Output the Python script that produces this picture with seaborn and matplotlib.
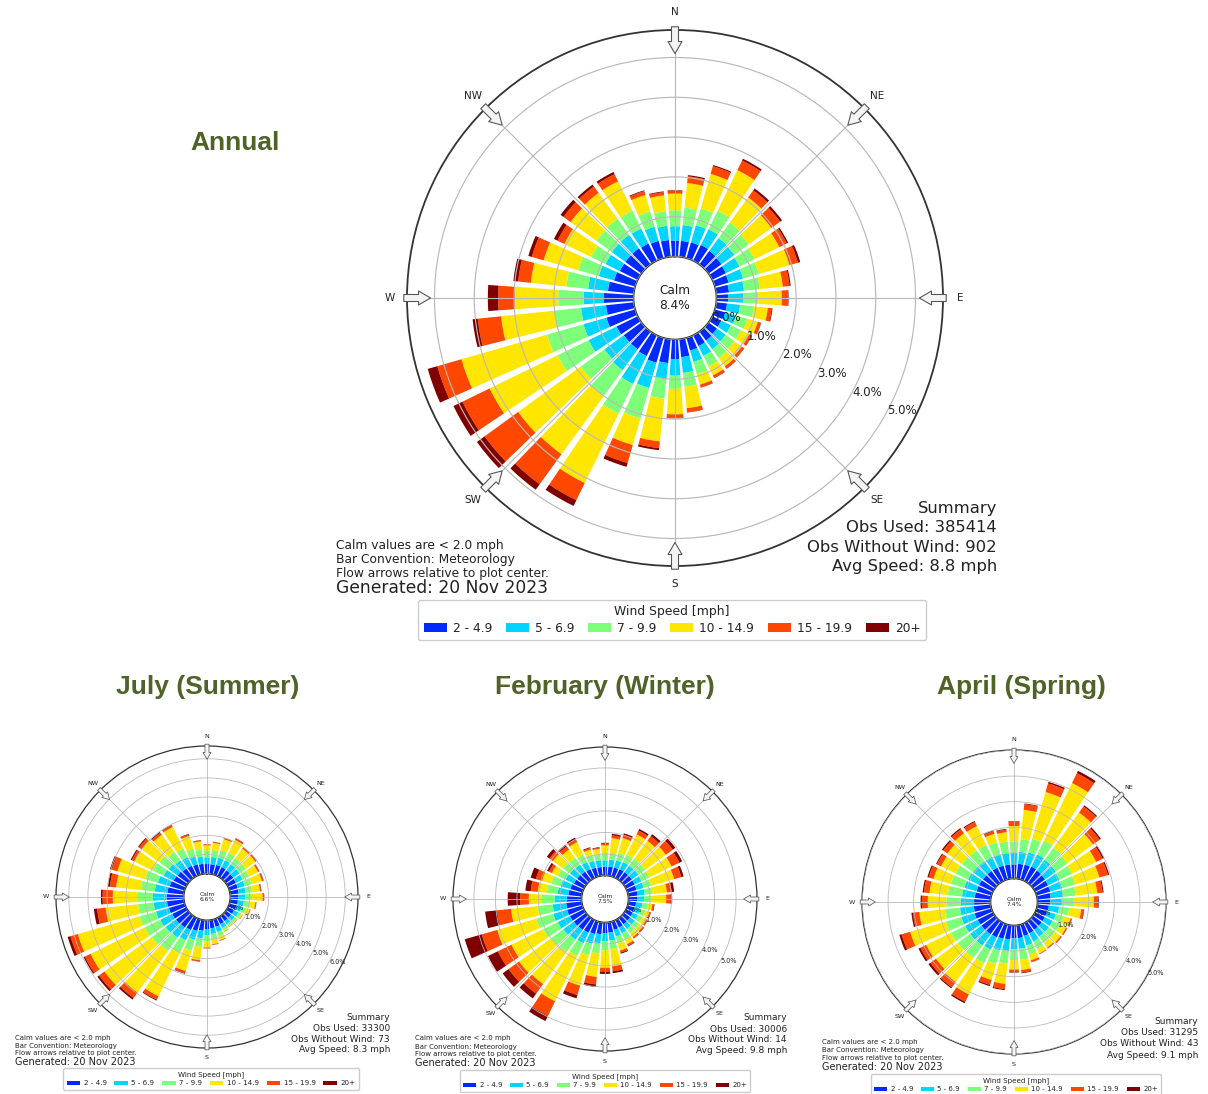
import numpy as np
import matplotlib
matplotlib.use("Agg")
import matplotlib.pyplot as plt
from matplotlib.patches import Patch
import seaborn as sns

# ---------------------------------------------------------------- data
directions = list(range(0, 360, 10))
speed_labels = ["2 - 4.9", "5 - 6.9", "7 - 9.9", "10 - 14.9", "15 - 19.9", "20+"]
compass = ["N", "NE", "E", "SE", "S", "SW", "W", "NW"]

# Cumulative frequency (%) at the top of each speed class, one row per direction
# (columns follow speed_labels).
annual_cum = [
    (0.40, 0.76, 1.16, 1.58, 1.66, 1.67), (0.40, 0.80, 1.24, 1.86, 2.03, 2.06),
    (0.41, 0.86, 1.30, 2.20, 2.40, 2.43), (0.44, 0.88, 1.40, 2.53, 2.80, 2.85),
    (0.42, 0.82, 1.30, 2.08, 2.30, 2.36), (0.40, 0.80, 1.25, 1.95, 2.22, 2.28),
    (0.38, 0.76, 1.18, 1.87, 2.08, 2.12), (0.36, 0.74, 1.15, 1.95, 2.17, 2.23),
    (0.32, 0.70, 1.10, 1.68, 1.85, 1.88), (0.29, 0.67, 1.05, 1.64, 1.79, 1.81),
    (0.27, 0.60, 0.95, 1.30, 1.40, 1.42), (0.26, 0.55, 0.85, 1.12, 1.20, 1.21),
    (0.25, 0.52, 0.80, 1.03, 1.10, 1.11), (0.26, 0.53, 0.80, 1.03, 1.10, 1.11),
    (0.28, 0.55, 0.83, 1.08, 1.15, 1.16), (0.30, 0.58, 0.87, 1.12, 1.19, 1.20),
    (0.33, 0.63, 0.95, 1.22, 1.29, 1.30), (0.45, 0.85, 1.20, 1.74, 1.84, 1.85),
    (0.49, 0.91, 1.24, 1.88, 1.97, 1.98), (0.60, 1.00, 1.50, 2.58, 2.75, 2.80),
    (0.65, 1.31, 2.11, 2.80, 3.27, 3.37), (0.58, 1.36, 2.19, 4.13, 4.61, 4.77),
    (0.55, 1.20, 2.01, 3.81, 4.74, 4.91), (0.55, 1.15, 1.89, 3.83, 4.87, 5.11),
    (0.59, 1.37, 2.24, 4.14, 4.90, 5.15), (0.75, 1.35, 2.30, 4.54, 5.17, 5.42),
    (0.70, 1.33, 2.00, 3.35, 3.94, 4.07), (0.75, 1.25, 1.89, 2.98, 3.40, 3.66),
    (0.65, 1.15, 1.70, 2.60, 2.92, 3.04), (0.55, 0.95, 1.49, 2.39, 2.70, 2.79),
    (0.50, 0.90, 1.30, 2.05, 2.24, 2.34), (0.50, 0.92, 1.40, 2.20, 2.42, 2.51),
    (0.50, 0.92, 1.42, 2.22, 2.42, 2.48), (0.48, 0.90, 1.40, 2.22, 2.42, 2.48),
    (0.45, 0.82, 1.22, 1.65, 1.75, 1.77), (0.42, 0.78, 1.15, 1.55, 1.63, 1.65),
]

july_cum = [
    (0.50, 0.85, 1.20, 1.48, 1.53, 1.54), (0.50, 0.88, 1.25, 1.62, 1.67, 1.68),
    (0.52, 0.92, 1.32, 1.92, 1.98, 2.00), (0.52, 0.92, 1.35, 2.10, 2.18, 2.20),
    (0.50, 0.90, 1.30, 1.90, 1.98, 2.00), (0.48, 0.88, 1.28, 1.90, 1.98, 2.00),
    (0.46, 0.85, 1.22, 1.74, 1.81, 1.83), (0.45, 0.83, 1.20, 1.76, 1.84, 1.86),
    (0.44, 0.80, 1.15, 1.56, 1.62, 1.64), (0.42, 0.78, 1.12, 1.68, 1.75, 1.77),
    (0.40, 0.72, 1.00, 1.32, 1.37, 1.38), (0.38, 0.66, 0.90, 1.10, 1.13, 1.14),
    (0.35, 0.60, 0.76, 0.84, 0.86, 0.86), (0.33, 0.55, 0.68, 0.73, 0.75, 0.75),
    (0.33, 0.55, 0.67, 0.71, 0.73, 0.73), (0.35, 0.58, 0.72, 0.79, 0.81, 0.81),
    (0.40, 0.68, 0.92, 1.12, 1.15, 1.16), (0.42, 0.72, 1.00, 1.26, 1.29, 1.30),
    (0.45, 0.78, 1.10, 1.42, 1.46, 1.47), (0.55, 0.95, 1.40, 2.10, 2.16, 2.18),
    (0.62, 1.10, 1.70, 2.80, 2.92, 2.95), (0.70, 1.30, 2.05, 4.55, 4.75, 4.80),
    (0.75, 1.40, 2.25, 4.95, 5.30, 5.40), (0.78, 1.45, 2.35, 5.40, 5.75, 5.86),
    (0.80, 1.50, 2.40, 5.55, 5.88, 5.95), (0.85, 1.55, 2.45, 5.80, 6.20, 6.35),
    (0.88, 1.58, 2.40, 4.10, 4.55, 4.72), (0.89, 1.60, 2.39, 3.70, 4.23, 4.32),
    (0.85, 1.52, 2.25, 3.55, 3.88, 3.98), (0.80, 1.45, 2.15, 3.65, 3.95, 4.05),
    (0.72, 1.30, 1.95, 3.00, 3.15, 3.21), (0.68, 1.25, 1.85, 3.00, 3.17, 3.23),
    (0.62, 1.15, 1.70, 2.80, 2.93, 2.98), (0.60, 1.10, 1.60, 2.85, 2.95, 2.98),
    (0.55, 0.98, 1.40, 2.10, 2.18, 2.21), (0.52, 0.90, 1.28, 1.70, 1.75, 1.77),
]

february_cum = [
    (0.40, 0.70, 1.00, 1.40, 1.48, 1.52), (0.42, 0.75, 1.08, 1.75, 1.88, 1.95),
    (0.43, 0.78, 1.12, 1.85, 2.00, 2.08), (0.45, 0.82, 1.20, 2.25, 2.45, 2.53),
    (0.45, 0.82, 1.22, 2.25, 2.52, 2.63), (0.45, 0.82, 1.22, 2.40, 2.80, 2.95),
    (0.44, 0.80, 1.20, 2.35, 2.75, 2.90), (0.43, 0.78, 1.15, 2.25, 2.60, 2.71),
    (0.42, 0.76, 1.12, 1.80, 2.02, 2.14), (0.40, 0.72, 1.05, 1.75, 1.95, 2.03),
    (0.36, 0.65, 0.90, 1.12, 1.19, 1.22), (0.34, 0.60, 0.85, 1.05, 1.11, 1.13),
    (0.34, 0.60, 0.84, 1.04, 1.10, 1.12), (0.35, 0.62, 0.86, 1.07, 1.14, 1.16),
    (0.36, 0.63, 0.88, 1.09, 1.16, 1.18), (0.38, 0.68, 0.98, 1.24, 1.33, 1.36),
    (0.40, 0.72, 1.05, 1.40, 1.50, 1.55), (0.48, 0.85, 1.25, 2.05, 2.28, 2.37),
    (0.50, 0.88, 1.30, 2.10, 2.30, 2.39), (0.55, 0.98, 1.45, 2.55, 2.90, 3.02),
    (0.60, 1.08, 1.62, 3.10, 3.55, 3.71), (0.65, 1.20, 1.85, 4.20, 4.95, 5.22),
    (0.68, 1.25, 1.95, 3.80, 4.35, 4.62), (0.70, 1.30, 2.00, 3.85, 4.45, 4.79),
    (0.72, 1.35, 2.10, 3.75, 4.45, 4.96), (0.74, 1.41, 2.23, 4.12, 4.87, 5.69),
    (0.72, 1.35, 2.05, 3.30, 3.95, 4.51), (0.68, 1.25, 1.85, 2.45, 2.85, 3.43),
    (0.62, 1.12, 1.62, 2.05, 2.38, 2.63), (0.58, 1.05, 1.50, 1.95, 2.25, 2.50),
    (0.52, 0.95, 1.35, 1.65, 1.80, 1.90), (0.50, 0.92, 1.32, 1.90, 2.10, 2.25),
    (0.48, 0.88, 1.28, 1.75, 1.93, 2.03), (0.45, 0.82, 1.20, 1.85, 2.00, 2.08),
    (0.42, 0.75, 1.05, 1.30, 1.37, 1.41), (0.40, 0.72, 1.02, 1.25, 1.30, 1.33),
]

april_cum = [
    (0.55, 1.00, 1.45, 2.05, 2.22, 2.24), (0.58, 1.05, 1.55, 2.70, 2.92, 2.95),
    (0.60, 1.10, 1.65, 3.55, 3.90, 3.96), (0.62, 1.15, 1.75, 4.25, 4.68, 4.78),
    (0.60, 1.12, 1.70, 3.40, 3.70, 3.75), (0.58, 1.10, 1.65, 2.90, 3.22, 3.28),
    (0.56, 1.06, 1.60, 2.65, 2.93, 3.00), (0.55, 1.04, 1.56, 2.55, 2.90, 2.95),
    (0.52, 1.00, 1.50, 2.35, 2.56, 2.60), (0.50, 0.95, 1.42, 2.20, 2.36, 2.39),
    (0.45, 0.85, 1.25, 1.72, 1.82, 1.84), (0.42, 0.78, 1.10, 1.38, 1.43, 1.44),
    (0.42, 0.76, 1.08, 1.34, 1.39, 1.40), (0.42, 0.76, 1.07, 1.33, 1.38, 1.39),
    (0.42, 0.75, 1.05, 1.28, 1.32, 1.33), (0.44, 0.80, 1.12, 1.32, 1.34, 1.35),
    (0.46, 0.85, 1.20, 1.45, 1.52, 1.53), (0.50, 0.92, 1.35, 1.75, 1.85, 1.88),
    (0.50, 0.92, 1.35, 1.72, 1.82, 1.84), (0.55, 1.00, 1.50, 2.30, 2.50, 2.54),
    (0.58, 1.05, 1.60, 2.25, 2.45, 2.50), (0.62, 1.15, 1.75, 3.10, 3.42, 3.48),
    (0.64, 1.18, 1.78, 2.95, 3.20, 3.25), (0.65, 1.20, 1.80, 2.85, 3.12, 3.21),
    (0.66, 1.20, 1.82, 2.90, 3.15, 3.23), (0.68, 1.22, 1.85, 3.30, 3.65, 3.74),
    (0.66, 1.20, 1.80, 2.80, 3.05, 3.11), (0.64, 1.16, 1.72, 2.45, 2.68, 2.73),
    (0.62, 1.12, 1.68, 2.40, 2.62, 2.67), (0.60, 1.10, 1.65, 2.35, 2.55, 2.60),
    (0.60, 1.08, 1.62, 2.25, 2.43, 2.47), (0.58, 1.06, 1.60, 2.30, 2.50, 2.56),
    (0.58, 1.05, 1.58, 2.40, 2.60, 2.65), (0.57, 1.04, 1.56, 2.38, 2.56, 2.60),
    (0.56, 1.02, 1.50, 1.85, 1.96, 1.99), (0.55, 1.00, 1.45, 1.82, 1.92, 1.95),
]

titles = ["Annual", "July (Summer)", "February (Winter)", "April (Spring)"]
calm_pct = [8.4, 6.6, 7.5, 7.4]
obs_used = [385414, 33300, 30006, 31295]
obs_without_wind = [902, 73, 14, 43]
avg_speed = [8.8, 8.3, 9.8, 9.1]
ring_max = [5, 6, 5, 5]

# ---------------------------------------------------------------- style
sns.set_theme(style="white")
plt.rcParams["font.family"] = ["DejaVu Sans"]
colors = sns.color_palette(list(plt.get_cmap("jet")(np.linspace(0, 1, 7)[1:])))

W, H, DPI = 1208, 1094, 100
fig = plt.figure(figsize=(W / DPI, H / DPI), dpi=DPI)
fig.patch.set_facecolor("white")


def fx(x):
    return x / W


def fy(y):
    return 1 - y / H


TEXT = "#222222"
TITLE_GREEN = "#4F6228"

# layout of each panel (pixel positions and text sizes)
panels = [
    dict(c=(675, 298), R=268, dir_fs=7.5, ring_fs=8.5, calm_fs=8.7, arrow=14,
         sum_x=997, sum_y=[509, 528, 547, 567], sum_fs=11.8,
         note_x=336, note_y=[545, 559, 573], note_fs=8.8, gen_y=588, gen_fs=12.3,
         leg=(672, 620), leg_title_fs=8.9, leg_fs=8.8, title_xy=(235, 143), lw=1.3),
    dict(c=(207, 897), R=151, dir_fs=4.6, ring_fs=4.7, calm_fs=4.3, arrow=8,
         sum_x=390, sum_y=[1017.7, 1028.3, 1039, 1049.7], sum_fs=6.5,
         note_x=15, note_y=[1037.7, 1045.7, 1053.3], note_fs=5.0, gen_y=1061.7, gen_fs=7.0,
         leg=(211, 1079), leg_title_fs=5.1, leg_fs=5.1, title_xy=(208, 687), lw=0.9),
    dict(c=(605, 899), R=152, dir_fs=4.6, ring_fs=4.7, calm_fs=4.3, arrow=8,
         sum_x=787, sum_y=[1018, 1029, 1040, 1050.7], sum_fs=6.5,
         note_x=415, note_y=[1038, 1046.7, 1054.3], note_fs=5.0, gen_y=1063.3, gen_fs=7.0,
         leg=(605, 1081), leg_title_fs=5.1, leg_fs=5.0, title_xy=(605, 687), lw=0.9),
    dict(c=(1014, 902), R=152, dir_fs=4.6, ring_fs=4.7, calm_fs=4.3, arrow=8,
         sum_x=1198, sum_y=[1021.7, 1032.3, 1043.7, 1055], sum_fs=6.5,
         note_x=822, note_y=[1042.3, 1050, 1057.7], note_fs=5.0, gen_y=1066.7, gen_fs=7.0,
         leg=(1016, 1085), leg_title_fs=5.1, leg_fs=5.0, title_xy=(1021, 687), lw=0.9),
]

tables = [annual_cum, july_cum, february_cum, april_cum]
theta = np.deg2rad(directions)
bar_width = np.deg2rad(10) * 0.8


def draw_rose(i):
    p = panels[i]
    cx, cy = p["c"]
    R = p["R"]
    ax = fig.add_axes([fx(cx - R), fy(cy + R), 2 * R / W, 2 * R / H],
                      projection="polar")
    ax.set_theta_zero_location("N")
    ax.set_theta_direction(-1)

    cum = np.array(tables[i])
    rmax = cum[:, -1].max() * 1.05
    hole = 0.1834 * rmax
    ax.set_ylim(0, rmax)
    ax.set_rorigin(-hole)

    lower = np.zeros(len(directions))
    for k in range(len(speed_labels)):
        upper = cum[:, k]
        ax.bar(theta, upper - lower, width=bar_width, bottom=lower,
               color=colors[k], linewidth=0, zorder=1)
        lower = upper

    ticks = np.arange(0, ring_max[i] + 1)
    ax.set_yticks(ticks)
    ax.set_yticklabels([])
    ax.set_xticks(np.deg2rad(np.arange(0, 360, 45)))
    ax.set_xticklabels([])
    ax.grid(True, color="#b9b9b9", linewidth=p["lw"] * 0.65)
    ax.set_axisbelow(False)
    ax.spines["polar"].set_color("#333333")
    ax.spines["polar"].set_linewidth(p["lw"])
    if "inner" in ax.spines:
        ax.spines["inner"].set_visible(False)

    def rdata(frac):
        return -hole + frac * (rmax + hole)

    # ring labels
    for t in ticks:
        ax.text(np.deg2rad(118), t, f"{t:.1f}%", ha="left", va="center",
                fontsize=p["ring_fs"], color=TEXT, zorder=6)

    # compass labels and inward flow arrows
    for k, name in enumerate(compass):
        ang = np.deg2rad(45 * k)
        ax.text(ang, rdata(1.066), name, ha="center", va="center",
                fontsize=p["dir_fs"], color=TEXT)
        ax.annotate("", xy=(ang, rdata(0.912)), xytext=(ang, rdata(1.012)),
                    xycoords="data", textcoords="data", annotation_clip=False,
                    arrowprops=dict(arrowstyle="simple,head_length=0.62,"
                                    "head_width=0.72,tail_width=0.36",
                                    fc="#f4f4f4", ec="#555555", lw=p["lw"] * 0.6,
                                    mutation_scale=p["arrow"],
                                    shrinkA=0, shrinkB=0), zorder=7)

    ax.text(0.5, 0.5, f"Calm\n{calm_pct[i]:.1f}%", transform=ax.transAxes,
            ha="center", va="center", fontsize=p["calm_fs"], color=TEXT,
            linespacing=1.15)

    # summary block
    lines = ["Summary", f"Obs Used: {obs_used[i]}",
             f"Obs Without Wind: {obs_without_wind[i]}",
             f"Avg Speed: {avg_speed[i]:.1f} mph"]
    for s, yy in zip(lines, p["sum_y"]):
        fig.text(fx(p["sum_x"]), fy(yy), s, ha="right", va="center",
                 fontsize=p["sum_fs"], color=TEXT)

    notes = ["Calm values are < 2.0 mph", "Bar Convention: Meteorology",
             "Flow arrows relative to plot center."]
    for s, yy in zip(notes, p["note_y"]):
        fig.text(fx(p["note_x"]), fy(yy), s, ha="left", va="center",
                 fontsize=p["note_fs"], color=TEXT)
    fig.text(fx(p["note_x"]), fy(p["gen_y"]), "Generated: 20 Nov 2023",
             ha="left", va="center", fontsize=p["gen_fs"], color=TEXT)

    handles = [Patch(facecolor=colors[k], edgecolor="none")
               for k in range(len(speed_labels))]
    leg = fig.legend(handles, speed_labels, ncol=6, loc="center",
                     bbox_to_anchor=(fx(p["leg"][0]), fy(p["leg"][1])),
                     title="Wind Speed [mph]", fontsize=p["leg_fs"],
                     title_fontsize=p["leg_title_fs"], frameon=True,
                     fancybox=True, edgecolor="#cccccc", framealpha=1,
                     handlelength=1.9, handleheight=0.65, handletextpad=0.5,
                     columnspacing=1.1, borderpad=0.45, labelspacing=0.3)
    for txt in leg.get_texts():
        txt.set_color(TEXT)
    leg.get_title().set_color(TEXT)

    fig.text(fx(p["title_xy"][0]), fy(p["title_xy"][1]), titles[i],
             ha="center", va="center", fontsize=19, fontweight="bold",
             color=TITLE_GREEN, family=["Liberation Sans", "DejaVu Sans"])


for i in range(4):
    draw_rose(i)

fig.savefig("out.png", dpi=DPI, facecolor="white")
